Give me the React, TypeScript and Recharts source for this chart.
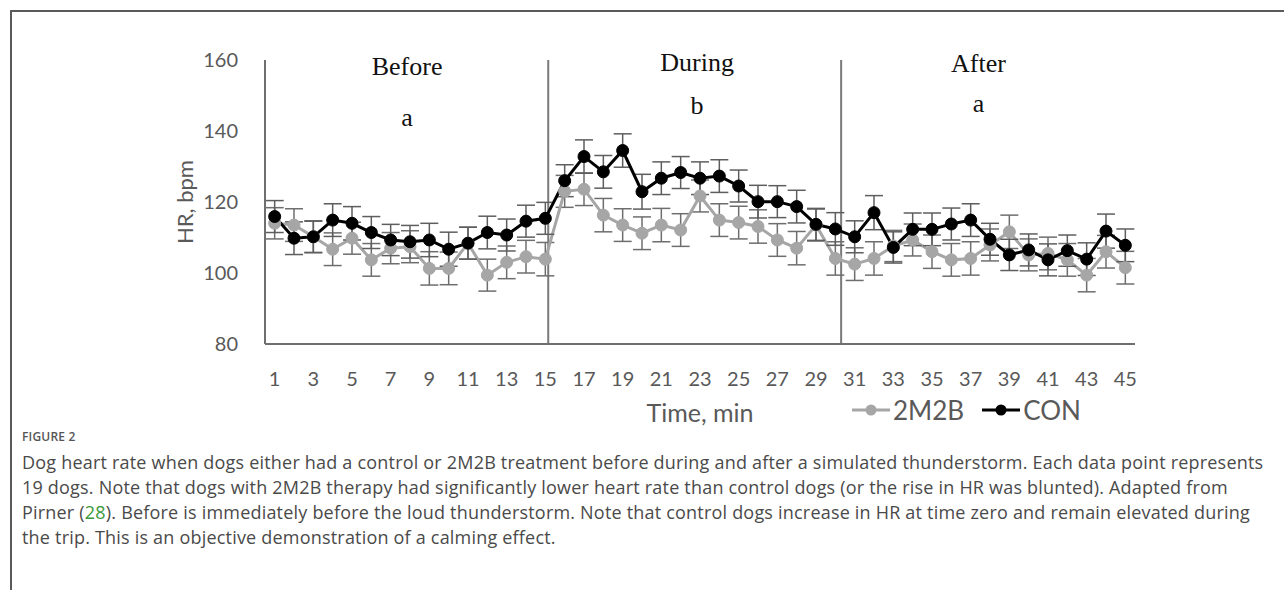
import React from 'react';
import { LineChart, Line, XAxis, YAxis, ErrorBar, ReferenceLine, ReferenceDot } from 'recharts';

// time in minutes
const minutes = [1, 2, 3, 4, 5, 6, 7, 8, 9, 10, 11, 12, 13, 14, 15, 16, 17, 18, 19, 20, 21, 22, 23, 24, 25, 26, 27, 28, 29, 30, 31, 32, 33, 34, 35, 36, 37, 38, 39, 40, 41, 42, 43, 44, 45];

// heart rate, bpm
const con = [115.9, 109.8, 110.2, 114.9, 114.0, 111.4, 109.3, 108.8, 109.3, 106.7, 108.4, 111.4, 110.7, 114.6, 115.4, 126.0, 132.8, 128.5, 134.5, 122.9, 126.7, 128.3, 126.7, 127.3, 124.5, 120.1, 120.1, 118.7, 113.7, 112.4, 110.2, 117.0, 107.2, 112.3, 112.3, 113.8, 114.9, 109.5, 105.1, 106.5, 103.7, 106.3, 103.9, 111.8, 107.8];
const m2b = [114.0, 113.5, 110.2, 106.7, 109.8, 103.7, 107.0, 107.4, 101.3, 101.3, 108.4, 99.4, 103.0, 104.6, 103.9, 123.0, 123.6, 116.3, 113.5, 111.2, 113.5, 112.1, 121.7, 114.9, 114.2, 113.1, 109.3, 107.0, 113.5, 104.1, 102.5, 104.1, 107.6, 109.3, 106.0, 103.7, 104.1, 107.9, 111.6, 105.1, 105.5, 103.7, 99.4, 106.0, 101.5];

// standard error
const conErr = [4.5, 4.6, 4.4, 4.6, 4.7, 4.5, 4.4, 4.6, 4.7, 4.8, 4.5, 4.6, 4.5, 4.5, 4.5, 4.5, 4.7, 4.6, 4.7, 4.9, 4.6, 4.5, 4.6, 4.6, 4.5, 4.6, 4.5, 4.6, 4.5, 4.6, 4.5, 4.8, 4.4, 4.6, 4.6, 4.5, 4.6, 4.5, 4.4, 4.5, 4.5, 4.4, 4.6, 4.8, 4.6];
const m2bErr = [4.4, 4.6, 4.5, 4.6, 4.5, 4.6, 4.4, 4.5, 4.7, 4.6, 4.5, 4.5, 4.6, 4.6, 4.7, 4.5, 4.6, 4.7, 4.6, 4.6, 4.7, 4.6, 4.5, 4.6, 4.6, 4.7, 4.6, 4.7, 4.5, 4.7, 4.6, 4.7, 4.4, 4.5, 4.7, 4.6, 4.7, 4.5, 4.7, 4.5, 4.6, 4.6, 4.7, 4.6, 4.6];

const xTicks = [1, 3, 5, 7, 9, 11, 13, 15, 17, 19, 21, 23, 25, 27, 29, 31, 33, 35, 37, 39, 41, 43, 45];
const yTicks = [80, 100, 120, 140, 160];

const dividers = [15.15, 30.3];
const sectionNames = ['Before', 'During', 'After'];
const sectionLetters = ['a', 'b', 'a'];
const sectionX = [7.85, 22.85, 37.4];
const nameY = [158.3, 159.4, 159.2];
const letterY = [143.9, 147.3, 147.9];

const data = minutes.map((m, i) => ({
  min: m,
  con: con[i],
  m2b: m2b[i],
  conErr: conErr[i],
  m2bErr: m2bErr[i],
}));

const GRAY = '#a6a6a6';
const AXIS = '#6f6f6f';
const TXT = '#595959';
const FONT = 'Lato, sans-serif';

const legendItems = [
  { name: '2M2B', color: GRAY },
  { name: 'CON', color: '#000' },
];

const captionLines = [
  'Dog heart rate when dogs either had a control or 2M2B treatment before during and after a simulated thunderstorm. Each data point represents',
  '19 dogs. Note that dogs with 2M2B therapy had significantly lower heart rate than control dogs (or the rise in HR was blunted). Adapted from',
  null,
  'the trip. This is an objective demonstration of a calming effect.',
];

export default function App() {
  return (
    <div style={{ position: 'absolute', left: 0, top: 0, width: 1284, height: 590, overflow: 'hidden', background: '#fff' }}>
      <div style={{ position: 'absolute', left: 10, top: 10, width: 1300, height: 600, borderTop: '2px solid #5a5a5a', borderLeft: '2px solid #5a5a5a' }} />

      <div style={{ position: 'absolute', left: 0, top: 0 }}>
        <LineChart width={1284} height={440} data={data} margin={{ top: 60, right: 149, bottom: 0, left: 175 }}>
          <XAxis
            dataKey="min"
            type="number"
            domain={[0.5, 45.5]}
            ticks={xTicks}
            interval={0}
            height={96}
            tickLine={false}
            tickSize={0}
            tickMargin={28}
            axisLine={{ stroke: AXIS, strokeWidth: 2 }}
            tick={{ fill: TXT, fontSize: 20, fontFamily: FONT }}
            label={{ value: 'Time, min', position: 'insideBottom', offset: 18, fill: TXT, fontSize: 25, fontFamily: FONT }}
          />
          <YAxis
            domain={[80, 160]}
            ticks={yTicks}
            width={90}
            tickLine={false}
            tickSize={0}
            tickMargin={27}
            axisLine={{ stroke: AXIS, strokeWidth: 2 }}
            tick={{ fill: TXT, fontSize: 20, fontFamily: FONT }}
            label={{ value: 'HR, bpm', angle: -90, position: 'insideLeft', offset: 10, fill: TXT, fontSize: 22, fontFamily: FONT, style: { textAnchor: 'middle' } }}
          />
          {dividers.map((x) => (
            <ReferenceLine key={x} x={x} stroke="#7a7a7a" strokeWidth={2} />
          ))}
          {sectionNames.map((n, i) => (
            <ReferenceDot key={n} x={sectionX[i]} y={nameY[i]} r={0} stroke="none"
              label={{ value: n, position: 'center', fill: '#111', fontSize: 26, fontFamily: '"Liberation Serif", serif' }} />
          ))}
          {sectionLetters.map((l, i) => (
            <ReferenceDot key={'l' + i} x={sectionX[i]} y={letterY[i]} r={0} stroke="none"
              label={{ value: l, position: 'center', fill: '#111', fontSize: 26, fontFamily: '"Liberation Serif", serif' }} />
          ))}
          <Line dataKey="m2b" stroke={GRAY} strokeWidth={3} isAnimationActive={false}
            dot={{ r: 6, fill: GRAY, stroke: GRAY, strokeWidth: 1 }}>
            <ErrorBar dataKey="m2bErr" width={9} stroke="#6e6e6e" strokeWidth={1.5} isAnimationActive={false} />
          </Line>
          <Line dataKey="con" stroke="#000" strokeWidth={3} isAnimationActive={false}
            dot={{ r: 6, fill: '#000', stroke: '#000', strokeWidth: 1 }}>
            <ErrorBar dataKey="conErr" width={9} stroke="#5e5e5e" strokeWidth={1.5} isAnimationActive={false} />
          </Line>
        </LineChart>
      </div>

      <div style={{ position: 'absolute', left: 852, top: 394, display: 'flex', alignItems: 'center', fontFamily: FONT, fontSize: 26, color: TXT }}>
        {legendItems.map((it) => (
          <div key={it.name} style={{ display: 'flex', alignItems: 'center', marginRight: 18 }}>
            <svg width={38} height={26}>
              <line x1={0} y1={13} x2={38} y2={13} stroke={it.color} strokeWidth={3} />
              <circle cx={19} cy={13} r={5.5} fill={it.color} />
            </svg>
            <span style={{ marginLeft: 3 }}>{it.name}</span>
          </div>
        ))}
      </div>

      <div style={{ position: 'absolute', left: 22, top: 428, fontFamily: '"Open Sans", sans-serif', color: '#4a4a4a', whiteSpace: 'nowrap' }}>
        <div style={{ fontSize: 12, lineHeight: '18px', color: '#555', fontWeight: 600, letterSpacing: 0.2 }}>FIGURE 2</div>
        <div style={{ fontSize: 18, lineHeight: '25px', marginTop: 4, letterSpacing: 0.2 }}>
          <div>{captionLines[0]}</div>
          <div>{captionLines[1]}</div>
          <div>
            Pirner (<span style={{ color: '#3a9a3a' }}>28</span>). Before is immediately before the loud thunderstorm. Note that control dogs increase in HR at time zero and remain elevated during
          </div>
          <div>{captionLines[3]}</div>
        </div>
      </div>
    </div>
  );
}
